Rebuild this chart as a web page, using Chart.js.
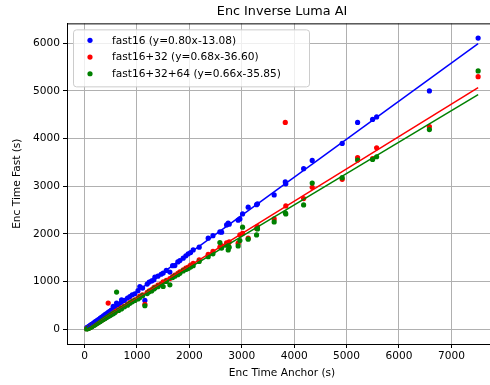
<!DOCTYPE html>
<html>
<head>
<meta charset="utf-8">
<script src="https://cdn.jsdelivr.net/npm/chart.js@4/dist/chart.umd.min.js"></script>
<style>
  html, body { margin: 0; padding: 0; background: #fff; overflow: hidden; }
  #wrap { width: 490px; height: 385px; overflow: hidden; }
  canvas { display: block; }
</style>
</head>
<body>
<div id="wrap"><canvas id="chart" width="505" height="385"></canvas></div>
<script>
// Enc time of the anchor vs fast configs (seconds)
const anchorTimes = [40, 55, 65, 80, 95, 110, 125, 140, 160, 180, 200, 225, 250, 275, 300, 330, 360, 390, 420, 451,
  480, 510, 546, 580, 611, 650, 700, 706, 760, 820, 865, 910, 960, 1020, 1055, 1107, 1151, 1195, 1233, 1280,
  1323, 1342, 1400, 1460, 1500, 1560, 1628, 1680, 1723, 1780, 1819, 1882, 1933, 1978, 2023, 2073, 2187, 2359, 2450, 2582,
  2615, 2710, 2741, 2760, 2931, 2964, 3015, 3122, 3282, 3300, 3618, 3830, 3840, 4180, 4344, 4916, 5210, 5496, 5573, 6580, 7510];
const fast16 = [25, 35, 40, 52, 62, 75, 88, 98, 112, 130, 148, 165, 188, 205, 228, 250, 275, 300, 325, 350,
  372, 398, 474, 455, 545, 510, 560, 614, 600, 650, 683, 720, 740, 805, 893, 860, 600, 943, 985, 1010,
  1034, 1090, 1110, 1150, 1174, 1230, 1195, 1330, 1333, 1410, 1438, 1488, 1537, 1579, 1606, 1662, 1719, 1908, 1960, 2040,
  2034, 2187, 2222, 2200, 2285, 2312, 2417, 2558, 2612, 2630, 2816, 3090, 3050, 3367, 3540, 3899, 4340, 4403, 4455, 5000, 6110];
const fast16_32 = [5, 15, 12, 20, 30, 38, 48, 55, 70, 82, 95, 115, 130, 150, 168, 185, 210, 228, 250, 545,
  290, 310, 335, 360, 380, 405, 440, 445, 480, 520, 555, 585, 610, 650, 690, 720, 520, 770, 800, 830,
  870, 880, 920, 950, 990, 1020, 1060, 1100, 1130, 1170, 1200, 1240, 1280, 1300, 1340, 1380, 1450, 1570, 1630, 1720,
  1750, 1810, 1767, 1830, 1803, 1980, 2010, 1908, 2110, 2150, 2312, 4340, 2585, 2740, 2975, 3145, 3598, 3577, 3807, 4250, 5300];
const fast16_32_64 = [0, 10, 8, 18, 25, 35, 42, 52, 66, 78, 90, 110, 128, 142, 160, 182, 200, 222, 240, 262,
  280, 300, 322, 345, 776, 390, 420, 430, 465, 500, 540, 570, 600, 630, 660, 700, 488, 745, 780, 800,
  840, 860, 890, 930, 893, 1000, 929, 1080, 1110, 1140, 1170, 1220, 1250, 1270, 1300, 1330, 1420, 1520, 1580, 1815,
  1700, 1760, 1662, 1719, 1746, 1857, 2138, 1887, 1977, 2103, 2250, 2440, 2417, 2606, 3065, 3178, 3549, 3560, 3618, 4190, 5420];

// fitted lines, end points only
const fitX = [50, 7510];
const fitFast16 = [27, 5995];
const fitFast16_32 = [-3, 5070];
const fitFast16_32_64 = [-3, 4921];

const xTickValues = [0, 1000, 2000, 3000, 4000, 5000, 6000, 7000];
const yTickValues = [0, 1000, 2000, 3000, 4000, 5000, 6000];

const seriesNames = ['fast16 (y=0.80x-13.08)', 'fast16+32 (y=0.68x-36.60)', 'fast16+32+64 (y=0.66x-35.85)'];
const colors = ['#0000ff', '#ff0000', '#008000'];

const pts = (xs, ys) => xs.map((x, i) => ({ x: x, y: ys[i] }));
const FONT = 'DejaVu Sans';

function scatterSet(i, ys) {
  return {
    type: 'scatter', label: seriesNames[i], data: pts(anchorTimes, ys),
    backgroundColor: colors[i], borderWidth: 0, pointRadius: 2.6, order: 6 - i, inLegend: true
  };
}
function fitSet(i, ys) {
  return {
    type: 'line', label: '', data: pts(fitX, ys), borderColor: colors[i], borderWidth: 1.5,
    pointRadius: 0, fill: false, order: 3 - i
  };
}

// top frame line + legend box like matplotlib
const framePlugin = {
  id: 'frame',
  afterDatasetsDraw(chart) {
    const ctx = chart.ctx, a = chart.chartArea;
    ctx.save();
    ctx.strokeStyle = '#000';
    ctx.lineWidth = 1;
    ctx.beginPath();
    ctx.moveTo(a.left, a.top + 0.5);
    ctx.lineTo(a.right, a.top + 0.5);
    ctx.stroke();

    const sets = chart.data.datasets.filter(d => d.inLegend);
    const bx = a.left + 6, by = a.top + 6, bw = 236, bh = 57;
    ctx.fillStyle = 'rgba(255,255,255,0.8)';
    ctx.strokeStyle = '#cccccc';
    ctx.beginPath();
    ctx.roundRect(bx + 0.5, by + 0.5, bw, bh, 3);
    ctx.fill();
    ctx.stroke();
    ctx.font = '10.6px "' + FONT + '"';
    ctx.textBaseline = 'middle';
    ctx.textAlign = 'left';
    sets.forEach((d, i) => {
      const y = by + 11 + i * 16.7;
      ctx.fillStyle = d.backgroundColor;
      ctx.beginPath();
      ctx.arc(bx + 17, y, 2.6, 0, Math.PI * 2);
      ctx.fill();
      ctx.fillStyle = '#000';
      ctx.fillText(d.label, bx + 39, y + 0.5);
    });
    ctx.restore();
  }
};

const plain = v => String(v);

new Chart(document.getElementById('chart'), {
  data: {
    datasets: [
      scatterSet(0, fast16), scatterSet(1, fast16_32), scatterSet(2, fast16_32_64),
      fitSet(0, fitFast16), fitSet(1, fitFast16_32), fitSet(2, fitFast16_32_64)
    ]
  },
  options: {
    responsive: false,
    animation: false,
    layout: { padding: { left: 0, right: 8, top: 0, bottom: 0 } },
    plugins: {
      legend: { display: false },
      tooltip: { enabled: false },
      title: {
        display: true, text: 'Enc Inverse Luma AI', fullSize: false, color: '#000',
        font: { family: FONT, size: 12.8, weight: 'normal' },
        padding: { top: 4.3, bottom: 3.7 }
      }
    },
    scales: {
      x: {
        type: 'linear', min: -335, max: 7870,
        afterBuildTicks(s) { s.ticks = xTickValues.map(v => ({ value: v })); },
        ticks: { color: '#000', padding: 2, callback: plain, font: { family: FONT, size: 10.6 } },
        grid: { color: '#b0b0b0', lineWidth: 1, tickColor: '#000', tickLength: 4 },
        border: { color: '#000', width: 1 },
        title: { display: true, text: 'Enc Time Anchor (s)', color: '#000',
          font: { family: FONT, size: 10.6 }, padding: { top: 0, bottom: 5.6 } },
        afterFit(s) { s.height = 41; }
      },
      y: {
        type: 'linear', min: -315, max: 6420,
        afterBuildTicks(s) { s.ticks = yTickValues.map(v => ({ value: v })); },
        ticks: { color: '#000', padding: 3, callback: plain, font: { family: FONT, size: 10.6 } },
        grid: { color: '#b0b0b0', lineWidth: 1, tickColor: '#000', tickLength: 4 },
        border: { color: '#000', width: 1 },
        title: { display: true, text: 'Enc Time Fast (s)', color: '#000',
          font: { family: FONT, size: 10.6 }, padding: { top: 10.6, bottom: 0 } },
        afterFit(s) { s.width = 67; }
      }
    }
  },
  plugins: [framePlugin]
});
</script>
</body>
</html>
